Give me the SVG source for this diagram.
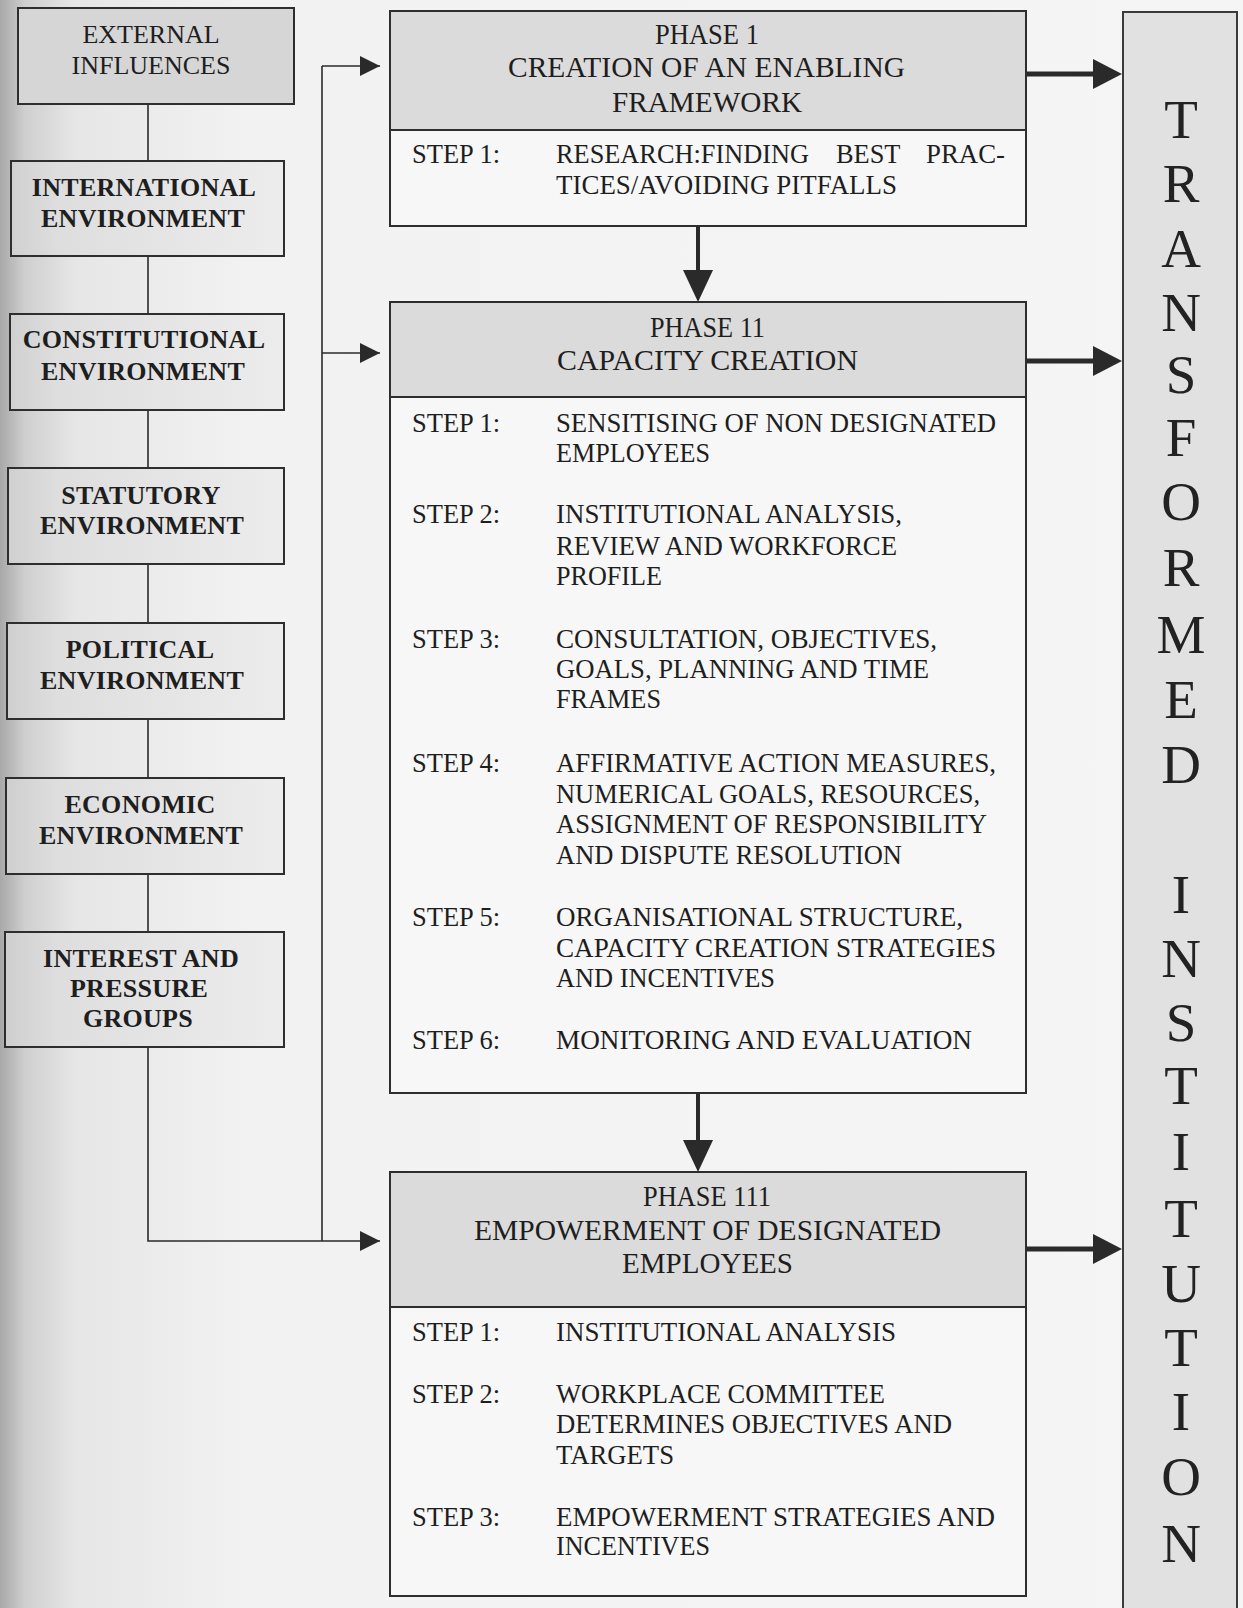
<svg xmlns="http://www.w3.org/2000/svg" width="1243" height="1608" viewBox="0 0 1243 1608">
<style>
  .bg{fill:url(#pageShade)}
  .env{fill:url(#envShade);stroke:#2e2e2e;stroke-width:2}
  .ext{fill:#d6d6d6;stroke:#2e2e2e;stroke-width:2}
  .phase{fill:#f7f7f7;stroke:#2e2e2e;stroke-width:2}
  .hdr{fill:#dbdbdb;stroke:#2e2e2e;stroke-width:2}
  .col{fill:#e1e1e1;stroke:#3a3a3a;stroke-width:2}
  .lb{font-family:"Liberation Serif","Times New Roman",serif;font-weight:bold;font-size:26px;fill:#1e1e1e;text-anchor:middle;letter-spacing:0.3px}
  .lr{font-family:"Liberation Serif","Times New Roman",serif;font-size:26px;fill:#1e1e1e;text-anchor:middle}
  .h{font-family:"Liberation Serif","Times New Roman",serif;font-size:28.5px;fill:#1e1e1e}
  .s{font-family:"Liberation Serif","Times New Roman",serif;font-size:26.5px;fill:#1e1e1e}
  .big{font-family:"Liberation Serif","Times New Roman",serif;font-size:55px;fill:#222;text-anchor:middle}
  .thin{fill:none;stroke:#2a2a2a;stroke-width:1.6}
  .thick{fill:none;stroke:#2a2a2a;stroke-width:5}
  .shaft{fill:none;stroke:#2a2a2a;stroke-width:4}
  .head{fill:#2a2a2a}
</style>
<defs>
  <linearGradient id="pageShade" x1="0" y1="0" x2="1243" y2="0" gradientUnits="userSpaceOnUse">
    <stop offset="0" stop-color="#a8a8a8"/>
    <stop offset="0.02" stop-color="#cfcfcf"/>
    <stop offset="0.06" stop-color="#e6e6e6"/>
    <stop offset="0.2" stop-color="#f2f2f2"/>
    <stop offset="1" stop-color="#f5f5f5"/>
  </linearGradient>
  <linearGradient id="envShade" x1="0" y1="0" x2="290" y2="0" gradientUnits="userSpaceOnUse">
    <stop offset="0" stop-color="#cdcdcd"/>
    <stop offset="0.2" stop-color="#dedede"/>
    <stop offset="1" stop-color="#ededed"/>
  </linearGradient>
  <marker id="thinHead" viewBox="0 0 20 20" refX="20" refY="10" markerWidth="20" markerHeight="20" markerUnits="userSpaceOnUse" orient="auto">
    <path d="M0,0 L20,10 L0,20 Z" class="head"/>
  </marker>
</defs>

<rect class="bg" x="0" y="0" width="1243" height="1608"/>

<g id="connectors">
  <line class="thin" x1="148" y1="104" x2="148" y2="161"/>
  <line class="thin" x1="148" y1="256" x2="148" y2="314"/>
  <line class="thin" x1="148" y1="410" x2="148" y2="468"/>
  <line class="thin" x1="148" y1="564" x2="148" y2="623"/>
  <line class="thin" x1="148" y1="719" x2="148" y2="778"/>
  <line class="thin" x1="148" y1="874" x2="148" y2="932"/>
  <polyline class="thin" points="148,1047 148,1241 380,1241" marker-end="url(#thinHead)"/>
  <line class="thin" x1="322" y1="66" x2="322" y2="1241"/>
  <line class="thin" x1="322" y1="66" x2="380" y2="66" marker-end="url(#thinHead)"/>
  <line class="thin" x1="322" y1="353" x2="380" y2="353" marker-end="url(#thinHead)"/>
  <line class="shaft" x1="698" y1="226" x2="698" y2="272"/>
  <polygon class="head" points="683,270 713,270 698,302"/>
  <line class="shaft" x1="698" y1="1093" x2="698" y2="1142"/>
  <polygon class="head" points="683,1140 713,1140 698,1172"/>
  <line class="thick" x1="1026" y1="74" x2="1096" y2="74"/>
  <polygon class="head" points="1093,59 1093,89 1122,74"/>
  <line class="thick" x1="1026" y1="361" x2="1096" y2="361"/>
  <polygon class="head" points="1093,346 1093,376 1122,361"/>
  <line class="thick" x1="1026" y1="1249" x2="1096" y2="1249"/>
  <polygon class="head" points="1093,1234 1093,1264 1122,1249"/>
</g>

<g id="external-influences">
  <rect class="ext" x="18" y="8" width="276" height="96"/>
  <text class="lr" x="151" y="43">EXTERNAL</text>
  <text class="lr" x="151" y="74">INFLUENCES</text>
</g>
<g id="international-environment">
  <rect class="env" x="11" y="161" width="273" height="95"/>
  <text class="lb" x="144" y="196">INTERNATIONAL</text>
  <text class="lb" x="143" y="227">ENVIRONMENT</text>
</g>
<g id="constitutional-environment">
  <rect class="env" x="10" y="314" width="274" height="96"/>
  <text class="lb" x="144" y="348">CONSTITUTIONAL</text>
  <text class="lb" x="143" y="380">ENVIRONMENT</text>
</g>
<g id="statutory-environment">
  <rect class="env" x="8" y="468" width="276" height="96"/>
  <text class="lb" x="141" y="504">STATUTORY</text>
  <text class="lb" x="142" y="534">ENVIRONMENT</text>
</g>
<g id="political-environment">
  <rect class="env" x="7" y="623" width="277" height="96"/>
  <text class="lb" x="140" y="658">POLITICAL</text>
  <text class="lb" x="142" y="689">ENVIRONMENT</text>
</g>
<g id="economic-environment">
  <rect class="env" x="6" y="778" width="278" height="96"/>
  <text class="lb" x="140" y="813">ECONOMIC</text>
  <text class="lb" x="141" y="844">ENVIRONMENT</text>
</g>
<g id="interest-pressure-groups">
  <rect class="env" x="5" y="932" width="279" height="115"/>
  <text class="lb" x="141" y="967">INTEREST AND</text>
  <text class="lb" x="139" y="997">PRESSURE</text>
  <text class="lb" x="138" y="1027">GROUPS</text>
</g>

<g id="phase-1">
  <rect class="phase" x="390" y="11" width="636" height="215"/>
  <rect class="hdr" x="390" y="11" width="636" height="119"/>
  <text class="h" x="655" y="44" textLength="104" lengthAdjust="spacingAndGlyphs">PHASE 1</text>
  <text class="h" x="508" y="77" textLength="397" lengthAdjust="spacingAndGlyphs">CREATION OF AN ENABLING</text>
  <text class="h" x="612" y="112" textLength="190" lengthAdjust="spacingAndGlyphs">FRAMEWORK</text>
  <text class="s" x="412" y="163" textLength="88" lengthAdjust="spacingAndGlyphs">STEP 1:</text>
  <text class="s" y="163"><tspan x="556" textLength="253" lengthAdjust="spacingAndGlyphs">RESEARCH:FINDING</tspan> <tspan x="836" textLength="64" lengthAdjust="spacingAndGlyphs">BEST</tspan> <tspan x="926" textLength="79" lengthAdjust="spacingAndGlyphs">PRAC-</tspan></text>
  <text class="s" x="556" y="194" textLength="341" lengthAdjust="spacingAndGlyphs">TICES/AVOIDING PITFALLS</text>
</g>

<g id="phase-11">
  <rect class="phase" x="390" y="302" width="636" height="791"/>
  <rect class="hdr" x="390" y="302" width="636" height="95"/>
  <text class="h" x="650" y="337" textLength="115" lengthAdjust="spacingAndGlyphs">PHASE 11</text>
  <text class="h" x="557" y="370" textLength="301" lengthAdjust="spacingAndGlyphs">CAPACITY CREATION</text>
  <text class="s" x="412" y="432" textLength="88" lengthAdjust="spacingAndGlyphs">STEP 1:</text>
  <text class="s" x="556" y="432" textLength="440" lengthAdjust="spacingAndGlyphs">SENSITISING OF NON DESIGNATED</text>
  <text class="s" x="556" y="462" textLength="154" lengthAdjust="spacingAndGlyphs">EMPLOYEES</text>
  <text class="s" x="412" y="523" textLength="88" lengthAdjust="spacingAndGlyphs">STEP 2:</text>
  <text class="s" x="556" y="523" textLength="346" lengthAdjust="spacingAndGlyphs">INSTITUTIONAL ANALYSIS,</text>
  <text class="s" x="556" y="555" textLength="341" lengthAdjust="spacingAndGlyphs">REVIEW AND WORKFORCE</text>
  <text class="s" x="556" y="585" textLength="106" lengthAdjust="spacingAndGlyphs">PROFILE</text>
  <text class="s" x="412" y="648" textLength="88" lengthAdjust="spacingAndGlyphs">STEP 3:</text>
  <text class="s" x="556" y="648" textLength="381" lengthAdjust="spacingAndGlyphs">CONSULTATION, OBJECTIVES,</text>
  <text class="s" x="556" y="678" textLength="373" lengthAdjust="spacingAndGlyphs">GOALS, PLANNING AND TIME</text>
  <text class="s" x="556" y="708" textLength="105" lengthAdjust="spacingAndGlyphs">FRAMES</text>
  <text class="s" x="412" y="772" textLength="88" lengthAdjust="spacingAndGlyphs">STEP 4:</text>
  <text class="s" x="556" y="772" textLength="440" lengthAdjust="spacingAndGlyphs">AFFIRMATIVE ACTION MEASURES,</text>
  <text class="s" x="556" y="803" textLength="424" lengthAdjust="spacingAndGlyphs">NUMERICAL GOALS, RESOURCES,</text>
  <text class="s" x="556" y="833" textLength="431" lengthAdjust="spacingAndGlyphs">ASSIGNMENT OF RESPONSIBILITY</text>
  <text class="s" x="556" y="864" textLength="346" lengthAdjust="spacingAndGlyphs">AND DISPUTE RESOLUTION</text>
  <text class="s" x="412" y="926" textLength="88" lengthAdjust="spacingAndGlyphs">STEP 5:</text>
  <text class="s" x="556" y="926" textLength="407" lengthAdjust="spacingAndGlyphs">ORGANISATIONAL STRUCTURE,</text>
  <text class="s" x="556" y="957" textLength="440" lengthAdjust="spacingAndGlyphs">CAPACITY CREATION STRATEGIES</text>
  <text class="s" x="556" y="987" textLength="219" lengthAdjust="spacingAndGlyphs">AND INCENTIVES</text>
  <text class="s" x="412" y="1049" textLength="88" lengthAdjust="spacingAndGlyphs">STEP 6:</text>
  <text class="s" x="556" y="1049" textLength="416" lengthAdjust="spacingAndGlyphs">MONITORING AND EVALUATION</text>
</g>

<g id="phase-111">
  <rect class="phase" x="390" y="1172" width="636" height="424"/>
  <rect class="hdr" x="390" y="1172" width="636" height="135"/>
  <text class="h" x="643" y="1206" textLength="128" lengthAdjust="spacingAndGlyphs">PHASE 111</text>
  <text class="h" x="474" y="1240" textLength="467" lengthAdjust="spacingAndGlyphs">EMPOWERMENT OF DESIGNATED</text>
  <text class="h" x="622" y="1273" textLength="171" lengthAdjust="spacingAndGlyphs">EMPLOYEES</text>
  <text class="s" x="412" y="1341" textLength="88" lengthAdjust="spacingAndGlyphs">STEP 1:</text>
  <text class="s" x="556" y="1341" textLength="340" lengthAdjust="spacingAndGlyphs">INSTITUTIONAL ANALYSIS</text>
  <text class="s" x="412" y="1403" textLength="88" lengthAdjust="spacingAndGlyphs">STEP 2:</text>
  <text class="s" x="556" y="1403" textLength="329" lengthAdjust="spacingAndGlyphs">WORKPLACE COMMITTEE</text>
  <text class="s" x="556" y="1433" textLength="396" lengthAdjust="spacingAndGlyphs">DETERMINES OBJECTIVES AND</text>
  <text class="s" x="556" y="1464" textLength="118" lengthAdjust="spacingAndGlyphs">TARGETS</text>
  <text class="s" x="412" y="1526" textLength="88" lengthAdjust="spacingAndGlyphs">STEP 3:</text>
  <text class="s" x="556" y="1526" textLength="439" lengthAdjust="spacingAndGlyphs">EMPOWERMENT STRATEGIES AND</text>
  <text class="s" x="556" y="1555" textLength="154" lengthAdjust="spacingAndGlyphs">INCENTIVES</text>
</g>

<g id="transformed-institution">
  <rect class="col" x="1123" y="12" width="114" height="1606"/>
  <text class="big" x="1181" y="138">T</text>
  <text class="big" x="1181" y="202">R</text>
  <text class="big" x="1181" y="267">A</text>
  <text class="big" x="1181" y="331">N</text>
  <text class="big" x="1181" y="393">S</text>
  <text class="big" x="1181" y="456">F</text>
  <text class="big" x="1181" y="520">O</text>
  <text class="big" x="1181" y="586">R</text>
  <text class="big" x="1181" y="653">M</text>
  <text class="big" x="1181" y="718">E</text>
  <text class="big" x="1181" y="783">D</text>
  <text class="big" x="1181" y="913">I</text>
  <text class="big" x="1181" y="977">N</text>
  <text class="big" x="1181" y="1041">S</text>
  <text class="big" x="1181" y="1104">T</text>
  <text class="big" x="1181" y="1170">I</text>
  <text class="big" x="1181" y="1237">T</text>
  <text class="big" x="1181" y="1302">U</text>
  <text class="big" x="1181" y="1366">T</text>
  <text class="big" x="1181" y="1430">I</text>
  <text class="big" x="1181" y="1495">O</text>
  <text class="big" x="1181" y="1562">N</text>
</g>
</svg>
